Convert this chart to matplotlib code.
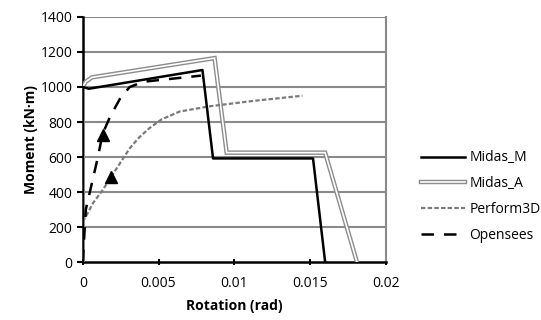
import matplotlib
matplotlib.use("Agg")
import matplotlib.pyplot as plt
from matplotlib.legend_handler import HandlerTuple

plt.rcParams['font.family'] = ['Open Sans', 'DejaVu Sans']

# data
midas_m_x = [0, 0, 0.0004, 0.0079, 0.0086, 0.0152, 0.0160]
midas_m_y = [0, 1000, 990, 1097, 592, 592, 0]

midas_a_x = [0, 0, 0.0002, 0.0006, 0.0087, 0.0095, 0.0160, 0.0181]
midas_a_y = [0, 1000, 1030, 1055, 1165, 625, 625, 0]

perf_x = [0, 0.0002, 0.0007, 0.0013, 0.0019, 0.0025, 0.0031, 0.0037,
          0.0044, 0.0052, 0.0064, 0.0084, 0.0112, 0.0145]
perf_y = [230, 260, 340, 410, 490, 570, 650, 710, 765, 815, 860, 890, 920, 950]

open_x = [0, 0.0002, 0.0006, 0.0010, 0.0013, 0.0018, 0.0025, 0.0031,
          0.0040, 0.0064, 0.0078]
open_y = [0, 300, 450, 600, 730, 830, 940, 1000, 1030, 1052, 1065]

tri_x = [0.00134, 0.00187]
tri_y = [726, 486]

fig = plt.figure(figsize=(5.41, 3.2), dpi=100)
ax = fig.add_axes([0.153, 0.181, 0.56, 0.766])

for yv in range(200, 1401, 200):
    ax.axhline(yv, color='#8a8a8a', lw=1.5, zorder=1)

l_m, = ax.plot(midas_m_x, midas_m_y, color='black', lw=1.8, zorder=4)
a1, = ax.plot(midas_a_x, midas_a_y, color='#8c8c8c', lw=3.2, zorder=3,
              solid_joinstyle='miter')
a2, = ax.plot(midas_a_x, midas_a_y, color='white', lw=1.2, zorder=3,
              solid_joinstyle='miter')
l_p, = ax.plot(perf_x, perf_y, color='#7a7a7a', lw=1.6, ls=(0, (2, 1)), zorder=3)
l_o, = ax.plot(open_x, open_y, color='black', lw=1.8, ls=(0, (5, 4)), zorder=3)
ax.plot(tri_x, tri_y, ls='none', marker='^', color='black', ms=9, zorder=5)

ax.set_xlim(0, 0.02)
ax.set_ylim(0, 1400)
ax.set_xticks([0, 0.005, 0.01, 0.015, 0.02])
ax.set_xticklabels(['0', '0.005', '0.01', '0.015', '0.02'])
ax.set_yticks(range(0, 1401, 200))

for s in ['left', 'bottom']:
    ax.spines[s].set_color('black')
    ax.spines[s].set_linewidth(1.8)
ax.spines['right'].set_color('#8a8a8a')
ax.spines['right'].set_linewidth(1.5)
ax.spines['top'].set_visible(False)
ax.tick_params(axis='both', labelsize=10, colors='black', width=1.5, length=4)
ax.tick_params(axis='x', direction='inout', pad=8)

ax.set_xlabel('Rotation (rad)', fontsize=10, fontweight='bold', labelpad=6)
ax.set_ylabel('Moment (kN·m)', fontsize=10, fontweight='bold', labelpad=2)

fig.legend([l_m, (a1, a2), l_p, l_o],
           ['Midas_M', 'Midas_A', 'Perform3D', 'Opensees'],
           handler_map={tuple: HandlerTuple(ndivide=1)},
           loc='upper left', bbox_to_anchor=(0.755, 0.569),
           frameon=False, fontsize=10, handlelength=3.2,
           labelspacing=0.77, handletextpad=0.3)

fig.savefig('out.png', dpi=100)
